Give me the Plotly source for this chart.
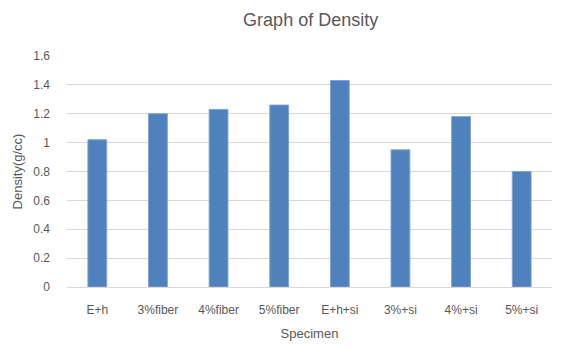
import plotly.graph_objects as go

categories = ["E+h", "3%fiber", "4%fiber", "5%fiber", "E+h+si", "3%+si", "4%+si", "5%+si"]
density = [1.02, 1.20, 1.23, 1.26, 1.43, 0.95, 1.18, 0.80]
y_ticks = [0, 0.2, 0.4, 0.6, 0.8, 1, 1.2, 1.4, 1.6]

fig = go.Figure(go.Bar(
    x=categories, y=density,
    marker=dict(color="#4F81BD", line=dict(color="#7FA3D3", width=1)),
))

font_family = "Liberation Sans, Arial, sans-serif"
fig.update_layout(
    width=570, height=352,
    margin=dict(l=67, r=18, t=56, b=65),
    paper_bgcolor="white", plot_bgcolor="white",
    bargap=0.69,
    showlegend=False,
    font=dict(family=font_family, color="#595959", size=12),
    title=dict(text="Graph of Density", x=0.545, xanchor="center", y=0.945, yanchor="middle",
               font=dict(size=18, color="#595959", family=font_family)),
    xaxis=dict(
        title=dict(text="Specimen", font=dict(size=13, color="#595959"), standoff=12),
        showgrid=False, showline=True, linecolor="#D9D9D9", linewidth=1,
        ticks="", tickfont=dict(size=12, color="#595959"), ticklabelstandoff=12,
        automargin=False,
    ),
    yaxis=dict(
        title=dict(text="Density(g/cc)", font=dict(size=13, color="#595959"), standoff=7),
        range=[0, 1.6], tickvals=y_ticks, ticktext=[str(v) for v in y_ticks],
        showgrid=True, gridcolor="#D9D9D9", gridwidth=1,
        zeroline=False, ticks="", tickfont=dict(size=12, color="#595959"), ticklabelstandoff=16,
        automargin=False,
    ),
)

fig.write_html("out.html", config={"displayModeBar": False},
               post_script="document.body.style.margin='0';")
